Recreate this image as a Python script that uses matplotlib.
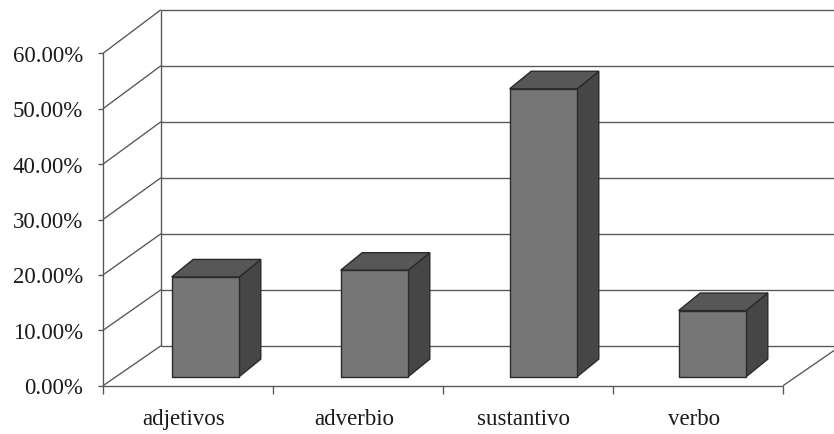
import matplotlib
matplotlib.use("Agg")
import matplotlib.pyplot as plt
from matplotlib.patches import Polygon
from matplotlib.transforms import Affine2D

# Share of each word class
categories = ["adjetivos", "adverbio", "sustantivo", "verbo"]
shares = [17.8, 19.0, 51.4, 11.8]          # percent
y_ticks = [0, 10, 20, 30, 40, 50, 60]
y_tick_labels = [f"{t:.2f}%" for t in y_ticks]

W, H = 834, 435
fig = plt.figure(figsize=(W / 100, H / 100), dpi=100)
ax = fig.add_axes([0, 0, 1, 1])
ax.set_xlim(0, W)
ax.set_ylim(H, 0)
ax.axis("off")

ncat = len(categories)
ymax = y_ticks[-1]

# Oblique 3-D projection: category units / percent -> canvas units
front = Affine2D().scale(170, -5.54).translate(103, 386.7)   # front edge of floor
back = Affine2D().scale(170, -5.60).translate(161, 346.7)    # back wall plane
bar_front = Affine2D().scale(169, -5.60).translate(121, 377.6)
bar_depth = Affine2D().translate(21.5, -17.5)
bar_back = bar_front + bar_depth

line_kw = dict(color="#555555", lw=0.95, solid_capstyle="butt", zorder=1)
txt_kw = dict(family="Liberation Serif", fontsize=16.5, color="#1a1a1a")


def P(tr, x, y):
    return tuple(tr.transform((x, y)))


# Back wall gridlines and left wall diagonals
for t in y_ticks:
    (x0, y0), (x1, y1) = P(back, 0, t), P(back, ncat + 0.05, t)
    ax.plot([x0, x1], [y0, y1], **line_kw)
    (fx, fy) = P(front, 0, t)
    ax.plot([fx, x0], [fy, y0], **line_kw)
    # tick mark and label on the value axis
    ax.plot([fx - 5, fx], [fy, fy], **line_kw)
    ax.text(fx - 20, fy + 2, y_tick_labels[y_ticks.index(t)], ha="right",
            va="center", **txt_kw)

# Vertical wall edges
for tr in (front, back):
    (x0, y0), (x1, y1) = P(tr, 0, 0), P(tr, 0, ymax)
    ax.plot([x0, x1], [y0, y1], **line_kw)

# Floor: front edge, right edge, category ticks
(x0, y0), (x1, y1) = P(front, 0, 0), P(front, ncat, 0)
ax.plot([x0, x1], [y0, y1], **line_kw)
(bx, by) = P(back, ncat, 0)
ax.plot([x1, bx], [y1, by], **line_kw)
for i in range(ncat + 1):
    tx, ty = P(front, i, 0)
    ax.plot([tx, tx], [ty, ty + 8], **line_kw)

for i, name in enumerate(categories):
    cx, cy = P(front, i + 0.5, 0)
    ax.text(cx - 4, cy + 33, name, ha="center", va="center", **txt_kw)

# Bars
half = 0.2
face_col, top_col, side_col, edge_col = "#767676", "#575757", "#464646", "#2a2a2a"
for i, v in enumerate(shares):
    c = i + 0.5
    fl, fr = c - half, c + half
    front_face = [P(bar_front, fl, 0), P(bar_front, fr, 0),
                  P(bar_front, fr, v), P(bar_front, fl, v)]
    top_face = [P(bar_front, fl, v), P(bar_front, fr, v),
                P(bar_back, fr, v), P(bar_back, fl, v)]
    side_face = [P(bar_front, fr, 0), P(bar_back, fr, 0),
                 P(bar_back, fr, v), P(bar_front, fr, v)]
    for pts, col in ((side_face, side_col), (top_face, top_col),
                     (front_face, face_col)):
        ax.add_patch(Polygon(pts, closed=True, facecolor=col,
                             edgecolor=edge_col, lw=1.0, zorder=3,
                             joinstyle="miter"))

fig.savefig("out.png", dpi=100)
